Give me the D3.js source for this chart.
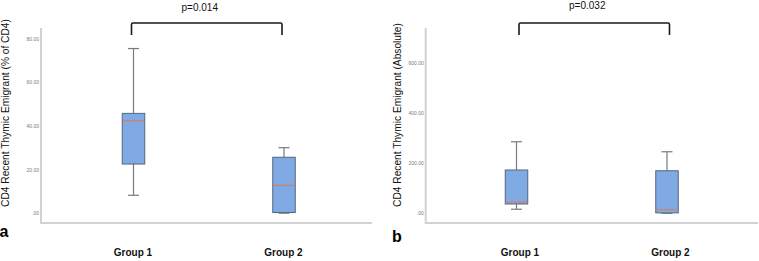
<!DOCTYPE html>
<html>
<head>
<meta charset="utf-8">
<script src="https://cdn.jsdelivr.net/npm/d3@7"></script>
<style>
  body { margin: 0; background: #fff; }
  svg { display: block; font-family: "Liberation Sans", Arial, sans-serif; }
</style>
</head>
<body>
<svg id="chart" width="759" height="261"></svg>
<script>
// categories
const groups = ["Group 1", "Group 2"]
// box stats per group: [whisker low, q1, median, q3, whisker high]
const pctStats = [
  [8.2, 22.5, 42.3, 45.7, 75.4],
  [0, 0.3, 12.8, 25.6, 30.0],
]
const absStats = [
  [16, 37, 45, 173, 286],
  [0, 1.5, 14, 170, 246],
]
// tick values
const pctTicks = [0, 20, 40, 60, 80]
const absTicks = [0, 200, 400, 600]
// p-values of the comparisons
const pValues = ["p=0.014", "p=0.032"]
const panelTitles = [
  "CD4 Recent Thymic Emigrant (% of CD4)",
  "CD4 Recent Thymic Emigrant (Absolute)",
]
const panelLetters = ["a", "b"]

const svg = d3.select("#chart")

// formatting ticks the SPSS way: ".00" for zero
const tickFormat = (d) => (d === 0 ? ".00" : d3.format(".2f")(d))

const drawPanel = (opts) => {
  const { left, right, top, bottom, domain, ticks, stats, xRange } = opts
  const g = svg.append("g")

  // y scale, bottom line sits a bit below zero
  const yScale = d3.scaleLinear().domain(domain).range([bottom, top])
  const xScale = d3.scalePoint().domain(groups).range(xRange)

  // light grey frame lines (left + bottom)
  g.append("path")
    .attr("d", `M${left},${top}V${bottom}H${right}`)
    .attr("fill", "none")
    .attr("stroke", "#d2d2d2")
    .attr("stroke-width", 2)

  // y ticks, tiny grey labels
  const yAxis = d3.axisLeft(yScale).tickValues(ticks).tickSize(0).tickPadding(2).tickFormat(tickFormat)
  g.append("g")
    .attr("transform", `translate(${left}, 0)`)
    .call(yAxis)
    .call((a) => a.select(".domain").remove())
    .selectAll("text")
    .attr("font-size", 5)
    .attr("fill", "#7a7a7a")

  // group labels below the frame
  const xAxis = d3.axisBottom(xScale).tickSize(0).tickPadding(26)
  g.append("g")
    .attr("transform", `translate(${opts.labelShift}, ${bottom})`)
    .call(xAxis)
    .call((a) => a.select(".domain").remove())
    .selectAll("text")
    .attr("font-size", 10)
    .attr("font-weight", "bold")
    .attr("fill", "#111")

  const boxW = 22.5
  const capW = 11
  const boxes = g.selectAll(".box").data(stats).join("g").attr("class", "box")
    .attr("transform", (d, i) => `translate(${xScale(groups[i])}, 0)`)

  // whiskers
  boxes.append("line")
    .attr("y1", (d) => yScale(d[4])).attr("y2", (d) => yScale(d[3]))
    .attr("stroke", "#7a7a7a").attr("stroke-width", 1.2)
  boxes.append("line")
    .attr("y1", (d) => yScale(d[1])).attr("y2", (d) => yScale(d[0]))
    .attr("stroke", "#7a7a7a").attr("stroke-width", 1.2)
  boxes.append("line")
    .attr("x1", -capW / 2).attr("x2", capW / 2)
    .attr("y1", (d) => yScale(d[4])).attr("y2", (d) => yScale(d[4]))
    .attr("stroke", "#7a7a7a").attr("stroke-width", 1.2)
  boxes.append("line")
    .attr("x1", -capW / 2).attr("x2", capW / 2)
    .attr("y1", (d) => yScale(d[0])).attr("y2", (d) => yScale(d[0]))
    .attr("stroke", "#7a7a7a").attr("stroke-width", 1.2)

  // box body
  boxes.append("rect")
    .attr("x", -boxW / 2)
    .attr("y", (d) => yScale(d[3]))
    .attr("width", boxW)
    .attr("height", (d) => yScale(d[1]) - yScale(d[3]))
    .attr("fill", "#80aae3")
    .attr("stroke", "#56667c")
    .attr("stroke-width", 1)

  // median
  boxes.append("line")
    .attr("x1", -boxW / 2 + 0.5).attr("x2", boxW / 2 - 0.5)
    .attr("y1", (d) => yScale(d[2])).attr("y2", (d) => yScale(d[2]))
    .attr("stroke", "#e07650").attr("stroke-width", 1)

  // significance bracket
  const bx1 = xScale(groups[0]) + opts.bracketShift
  const bx2 = xScale(groups[1]) + opts.bracketShift
  g.append("path")
    .attr("d", `M${bx1},35V24.5Q${bx1},23 ${bx1 + 1.5},23H${bx2 - 1.5}Q${bx2},23 ${bx2},24.5V35`)
    .attr("fill", "none")
    .attr("stroke", "#1a1a1a")
    .attr("stroke-width", 1.6)
  g.append("text")
    .attr("x", (bx1 + bx2) / 2 - 7)
    .attr("y", opts.pY)
    .attr("text-anchor", "middle")
    .attr("font-size", 10)
    .attr("fill", "#111")
    .text(opts.pText)

  // rotated y title
  g.append("text")
    .attr("transform", `translate(${opts.titleX}, ${opts.titleY}) rotate(-90)`)
    .attr("text-anchor", "middle")
    .attr("font-size", 10.2)
    .attr("fill", "#111")
    .text(opts.title)

  // panel letter
  g.append("text")
    .attr("x", opts.letterX)
    .attr("y", opts.letterY)
    .attr("font-size", 16)
    .attr("font-weight", "bold")
    .attr("fill", "#000")
    .text(opts.letter)
}

drawPanel({
  left: 41, right: 372, top: 28, bottom: 223,
  domain: [-4.5, 84.8], ticks: pctTicks, stats: pctStats,
  xRange: [133.5, 284], labelShift: -1, bracketShift: -2,
  pText: pValues[0], pY: 11,
  title: panelTitles[0], titleX: 9, titleY: 113,
  letter: panelLetters[0], letterX: -0.5, letterY: 237,
})

drawPanel({
  left: 425.7, right: 758, top: 28, bottom: 223,
  domain: [-39, 741], ticks: absTicks, stats: absStats,
  xRange: [516.5, 667], labelShift: 3, bracketShift: 2.5,
  pText: pValues[1], pY: 9,
  title: panelTitles[1], titleX: 401, titleY: 115,
  letter: panelLetters[1], letterX: 392, letterY: 242,
})
</script>
</body>
</html>
